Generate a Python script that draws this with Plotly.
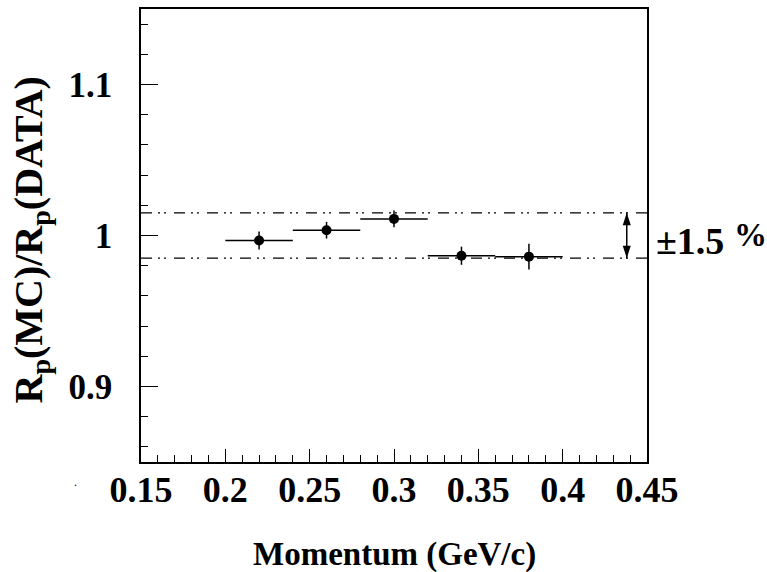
import plotly.graph_objects as go

# Data
momentum = [0.22, 0.26, 0.30, 0.34, 0.38]
bin_halfwidth = [0.02, 0.02, 0.02, 0.02, 0.02]
ratio = [0.9967, 1.0035, 1.011, 0.9866, 0.986]
ratio_err = [0.006, 0.0055, 0.0055, 0.006, 0.0085]
band = [0.985, 1.015]
x_range = [0.15, 0.45]
y_range = [0.85, 1.15]
x_ticks = [0.15, 0.2, 0.25, 0.3, 0.35, 0.4, 0.45]
x_ticklabels = ["0.15", "0.2", "0.25", "0.3", "0.35", "0.4", "0.45"]
y_ticks = [0.9, 1.0, 1.1]
y_ticklabels = ["0.9", "1", "1.1"]
arrow_x = 0.438

FONT = "Liberation Serif"

fig = go.Figure()

# band lines
for b in band:
    fig.add_trace(go.Scatter(
        x=x_range, y=[b, b], mode="lines",
        line=dict(color="black", width=1.3, dash="11px,6px,2px,4px,2px,8px"),
        hoverinfo="skip", showlegend=False))

fig.add_trace(go.Scatter(
    x=momentum, y=ratio, mode="markers",
    marker=dict(color="black", size=10, symbol="circle"),
    error_x=dict(type="data", array=bin_halfwidth, color="black", thickness=1.5, width=0),
    error_y=dict(type="data", array=ratio_err, color="black", thickness=1.5, width=0),
    showlegend=False))

# double arrow
fig.add_trace(go.Scatter(
    x=[arrow_x, arrow_x], y=band, mode="lines+markers",
    line=dict(color="black", width=1.5),
    marker=dict(symbol="arrow", angle=[180, 0], size=13, color="black"),
    hoverinfo="skip", showlegend=False))

# ±1.5 % label
fig.add_annotation(x=1.0, y=1.0, xref="paper", yref="y", xanchor="left", yanchor="middle",
                   xshift=7, yshift=-5, showarrow=False, text="<b>±1.5</b>",
                   font=dict(family=FONT, size=38, color="black"))
fig.add_annotation(x=1.0, y=1.0, xref="paper", yref="y", xanchor="left", yanchor="middle",
                   xshift=85, yshift=1, showarrow=False, text="<b>%</b>",
                   font=dict(family=FONT, size=33, color="black"))

# axis titles
fig.add_annotation(x=0.5, y=0, xref="paper", yref="paper", xanchor="center", yanchor="middle",
                   yshift=-92, showarrow=False, text="<b>Momentum (GeV/c)</b>",
                   font=dict(family=FONT, size=33, color="black"))
fig.add_annotation(x=0, y=1.0, xref="paper", yref="y", xanchor="center", yanchor="middle",
                   xshift=-111, yshift=-5, showarrow=False, textangle=-90,
                   text="<b>R<sub>p</sub>(MC)/R<sub>p</sub>(DATA)</b>",
                   font=dict(family=FONT, size=40, color="black"))
fig.add_annotation(x=0, y=0, xref="paper", yref="paper", xanchor="center", yanchor="middle",
                   xshift=-66, yshift=-20, showarrow=False, text=".",
                   font=dict(family=FONT, size=12, color="black"))

fig.update_xaxes(range=x_range, tickvals=x_ticks, ticktext=x_ticklabels,
                 ticks="inside", ticklen=13, tickwidth=1.2, tickcolor="black",
                 minor=dict(ticks="inside", ticklen=7, dtick=0.01, tickwidth=1.2, tickcolor="black"),
                 showline=True, linecolor="black", linewidth=1.5, mirror=True,
                 showgrid=False, zeroline=False,
                 tickfont=dict(family=FONT, size=36, color="black", weight="bold"),
                 ticklabelstandoff=-5)
fig.update_yaxes(range=y_range, tickvals=y_ticks, ticktext=y_ticklabels,
                 ticks="inside", ticklen=17, tickwidth=1.2, tickcolor="black",
                 minor=dict(ticks="inside", ticklen=7, tick0=0.86, dtick=0.02, tickwidth=1.2, tickcolor="black"),
                 showline=True, linecolor="black", linewidth=1.5, mirror=True,
                 showgrid=False, zeroline=False,
                 tickfont=dict(family=FONT, size=35, color="black", weight="bold"),
                 ticklabelstandoff=20)

fig.update_layout(width=767, height=572,
                  margin=dict(l=141, r=120, t=7, b=110),
                  paper_bgcolor="white", plot_bgcolor="white",
                  showlegend=False)

fig.write_html("out.html", config={"displayModeBar": False},
               post_script="document.body.style.margin='0';")
